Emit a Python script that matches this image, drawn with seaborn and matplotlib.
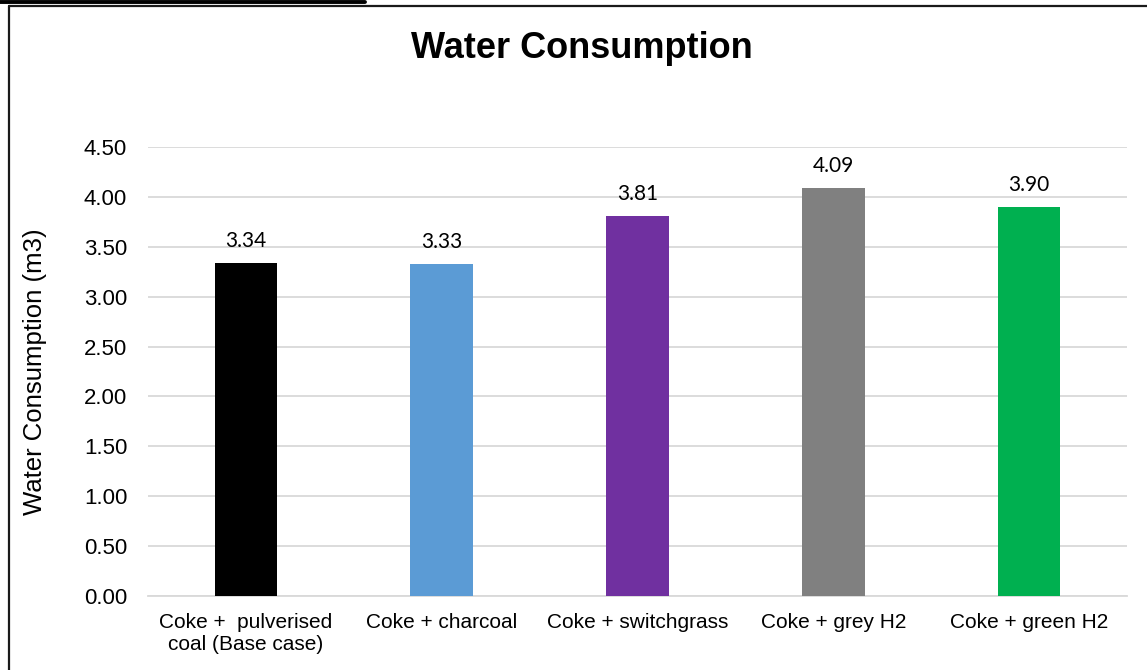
import matplotlib
matplotlib.use("Agg")
import matplotlib.pyplot as plt
from matplotlib.lines import Line2D
import seaborn as sns
import pandas as pd

# Water consumption per process route (m3)
categories = [
    "Coke +  pulverised\ncoal (Base case)",
    "Coke + charcoal",
    "Coke + switchgrass",
    "Coke + grey H2",
    "Coke + green H2",
]
values = [3.34, 3.33, 3.81, 4.09, 3.90]
colors = ["#000000", "#5b9bd5", "#7030a0", "#808080", "#00b050"]
yticks = [0.0, 0.5, 1.0, 1.5, 2.0, 2.5, 3.0, 3.5, 4.0, 4.5]

sns.set_theme(style="white")
plt.rcParams["font.family"] = ["Liberation Sans", "DejaVu Sans"]
plt.rcParams["text.color"] = "black"
plt.rcParams["xtick.color"] = "black"
plt.rcParams["ytick.color"] = "black"
plt.rcParams["axes.labelcolor"] = "black"

df = pd.DataFrame({"route": categories, "water": values})

fig = plt.figure(figsize=(11.47, 6.70), dpi=100)
ax = fig.add_axes([148 / 1147, 1 - 596 / 670, 979 / 1147, 449 / 670])

sns.barplot(
    data=df, x="route", y="water", hue="route",
    palette=colors, width=0.32, legend=False, ax=ax,
    saturation=1, edgecolor="none", zorder=3,
)

ax.set_ylim(0, 4.5)
ax.set_xlim(-0.5, len(categories) - 0.5)
ax.set_yticks(yticks)
ax.set_yticklabels([f"{v:.2f}" for v in yticks], fontsize=16)
ax.tick_params(axis="y", length=0, pad=15)
ax.tick_params(axis="x", length=0, pad=12, labelsize=15)
for lbl in ax.get_xticklabels():
    lbl.set_multialignment("center")
    lbl.set_linespacing(1.25)

ax.grid(axis="y", color="#d9d9d9", linewidth=1.3, zorder=0)
ax.set_axisbelow(True)
for side in ["top", "right", "left"]:
    ax.spines[side].set_visible(False)
ax.spines["bottom"].set_color("#d9d9d9")
ax.spines["bottom"].set_linewidth(1.3)

ax.set_xlabel("")
ax.set_ylabel("Water Consumption (m3)", fontsize=18.5)
ax.yaxis.set_label_coords(-0.103, 0.5)

# value labels above each bar
for i, v in enumerate(values):
    ax.annotate(f"{v:.2f}", xy=(i, v), xytext=(0, 11.5), textcoords="offset points",
                ha="center", va="baseline", fontsize=15, family=["Lato", "DejaVu Sans"],
                color="#000000")

fig.text(582 / 1147, 1 - 48 / 670, "Water Consumption", ha="center", va="center",
         fontsize=26, fontweight="bold", color="black")

# chart frame
fig.add_artist(Line2D([0, 365 / 1147], [1 - 1.5 / 670] * 2, color="black", lw=2.8,
                      transform=fig.transFigure))
fig.add_artist(Line2D([8.5 / 1147, 1], [1 - 6 / 670] * 2, color="#1a1a1a", lw=1.6,
                      transform=fig.transFigure))
fig.add_artist(Line2D([8.5 / 1147] * 2, [0, 1 - 6 / 670], color="#1a1a1a", lw=1.6,
                      transform=fig.transFigure))

fig.savefig("out.png", dpi=100)
